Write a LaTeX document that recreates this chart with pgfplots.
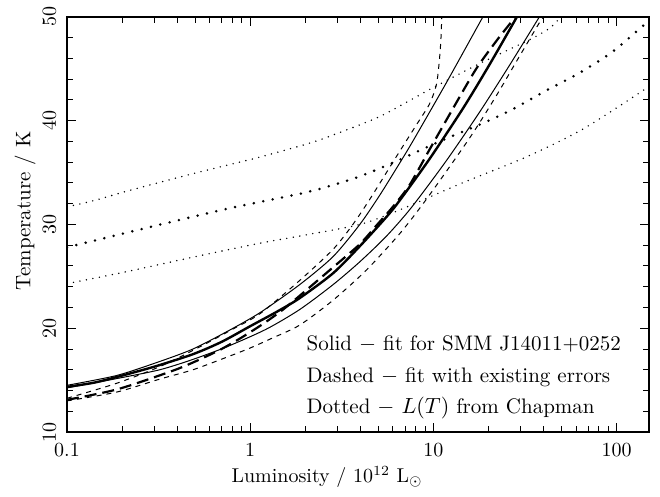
\documentclass[border=0pt]{standalone}
\usepackage{pgfplots}
\pgfplotsset{compat=1.18}
\begin{document}
\begin{tikzpicture}
\begin{axis}[
    scale only axis,
    width=291pt, height=207.5pt,
    xmode=log, xmin=0.1, xmax=150,
    ymin=10, ymax=50,
    xtick={0.1,1,10,100}, xticklabels={0.1,1,10,100},
    minor xtick={0.2,0.3,0.4,0.5,0.6,0.7,0.8,0.9,2,3,4,5,6,7,8,9,20,30,40,50,60,70,80,90},
    ytick={10,20,30,40,50}, minor y tick num=4,
    tick align=inside,
    major tick length=4.5pt, minor tick length=2.8pt,
    every tick/.style={black, line width=0.5pt},
    axis line style={line width=0.6pt},
    xticklabel shift=2pt,
    yticklabel style={rotate=90, anchor=south},
    yticklabel shift=2pt,
    xlabel={Luminosity / 10$^{12}$ L$_\odot$},
    ylabel={Temperature / K},
    xlabel style={at={(axis description cs:0.447,-0.108)}, anchor=center},
    ylabel style={at={(axis description cs:-0.072,0.533)}, anchor=center, font=\fontsize{10.5}{12}\selectfont},
    no marks,
    every axis plot/.append style={black, smooth, tension=0.45},
    fit/.style={line width=1.2pt},
    fiterr/.style={line width=0.5pt},
    old/.style={line width=1.1pt, dash pattern=on 6pt off 3pt},
    olderr/.style={line width=0.5pt, dash pattern=on 2.5pt off 2.5pt},
    chap/.style={line width=1.4pt, line cap=round, dash pattern=on 0pt off 4.8pt},
    chaperr/.style={line width=0.8pt, line cap=round, dash pattern=on 0pt off 3.3pt},
]
% solid: fit for SMM J14011+0252
\addplot[fit] coordinates {(0.1,14.35) (0.14,14.75) (0.187,15.3) (0.3,16.3) (0.487,17.5) (0.7,18.7) (1,20.2) (1.4,21.6) (1.86,22.9) (2.83,25.3) (3.96,27.9) (5.52,30.7) (6.53,32.3) (9.5,36.3) (14.5,41.2) (20.2,45.4) (28.3,49.9) (28.5,50)};
\addplot[fiterr] coordinates {(0.1,14.5) (0.187,15.45) (0.321,16.8) (0.487,18.0) (0.75,19.7) (1.13,21.5) (1.86,24.2) (2.83,26.9) (3.96,30.0) (5.08,32.8) (6.53,35.9) (7.7,38.0) (11.7,43.6) (17.8,49.4) (18.6,50)};
\addplot[fiterr] coordinates {(0.1,14.25) (0.187,15.15) (0.321,16.0) (0.487,17.0) (0.742,18.2) (1.22,19.9) (1.86,21.8) (2.83,24.2) (3.96,26.4) (5.52,28.85) (7.55,31.6) (11.7,36.1) (17.8,40.8) (25.9,45.3) (37.8,50)};
% dashed: fit with existing errors
\addplot[old] coordinates {(0.1,13.1) (0.187,14.1) (0.364,15.8) (0.487,16.7) (0.68,17.9) (0.877,19.0) (1.17,20.4) (1.51,21.8) (1.94,23.4) (2.8,25.8) (3.96,28.1) (4.88,29.9) (6.0,31.7) (7.4,33.8) (9.5,37.2) (12.7,41.1) (17.1,45.0) (22.5,47.9) (28.0,50)};
\addplot[olderr] coordinates {(0.1,13.25) (0.187,14.7) (0.321,16.3) (0.53,18.2) (0.8,19.9) (1.13,21.4) (1.86,24.6) (2.83,27.6) (3.63,30.0) (4.48,32.4) (6.25,36.5) (8.0,39.5) (9.5,41.6) (10.35,43.4) (10.7,45.3) (10.96,47.6) (11.1,50)};
\addplot[olderr] coordinates {(0.1,13.0) (0.187,13.85) (0.321,15.1) (0.487,16.0) (0.742,17.2) (1.0,18.1) (1.3,19.0) (1.86,20.3) (2.83,22.7) (4.3,25.6) (6.53,29.1) (9.12,32.4) (15.7,38.3) (22,42.4) (28,45.55) (38,49.5) (40,50)};
% dotted: L(T) from Chapman
\addplot[chap] coordinates {(0.1,27.8) (0.261,29.6) (0.742,31.5) (2.02,33.1) (3.63,34.4) (5.75,35.8) (10.8,38.0) (19.4,39.9) (27,41.1) (41.1,42.9) (62.5,44.6) (94.9,46.65) (138,49.1) (150,49.6)};
\addplot[chaperr] coordinates {(0.1,31.7) (0.14,32.3) (0.211,33.2) (0.487,34.9) (1.13,36.5) (2.07,37.8) (2.71,38.5) (5.08,40.4) (9.5,43.0) (17.8,45.5) (33.3,47.8) (42.9,48.9) (49.5,50)};
\addplot[chaperr] coordinates {(0.1,24.3) (0.211,25.45) (0.487,26.85) (1.13,28.2) (2.02,29.0) (3.96,30.0) (6.53,31.4) (13.9,33.9) (32,36.5) (62.5,39.0) (103,41.4) (150,43.3)};
\begin{scope}[every node/.style={anchor=base west, inner sep=0pt, font=\fontsize{10.5}{12}\selectfont}]
\node at (rel axis cs:0.411,0.196) {Solid $-$ fit for SMM J14011+0252};
\node at (rel axis cs:0.411,0.120) {Dashed $-$ fit with existing errors};
\node at (rel axis cs:0.411,0.0434) {Dotted $-$ $L(T)$ from Chapman};
\end{scope}
\coordinate (sw) at (rel axis cs:0,0);
\coordinate (ne) at (rel axis cs:1,1);
\end{axis}
\pgfresetboundingbox
\path[use as bounding box] ([shift={(-33.5pt,-32pt)}]sw) rectangle ([shift={(5.5pt,8.5pt)}]ne);
\end{tikzpicture}
\end{document}
